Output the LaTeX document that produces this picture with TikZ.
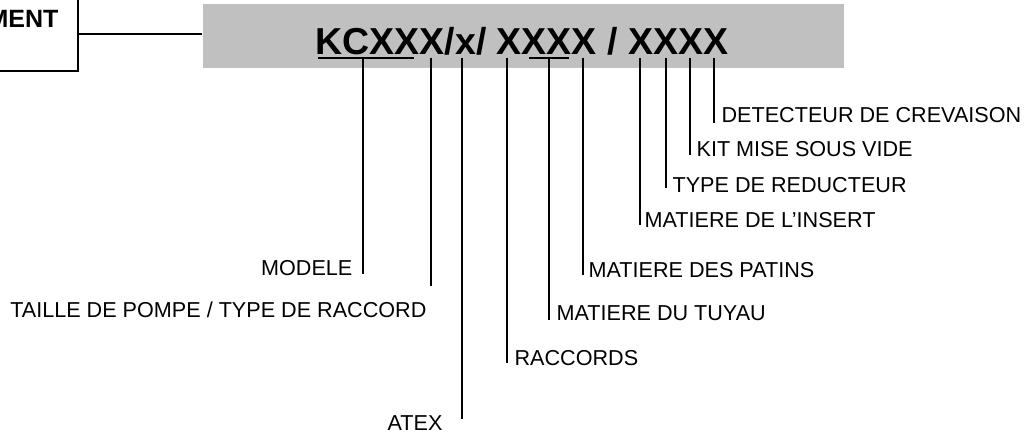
\documentclass[tikz,border=0pt]{standalone}
\usepackage{fontspec}
\setmainfont{Liberation Sans}
\usetikzlibrary{positioning}
\definecolor{bandgray}{RGB}{192,192,192}
\tikzset{
	every path/.style = {line width=1.2pt},
	fieldtext/.style = {draw=none, inner sep=0pt, font=\fontsize{21.6}{25}\selectfont}
}

\begin{document}
\begin{tikzpicture}[x=1pt,y=-1pt,
	codeband/.style={draw=none,fill=bandgray,minimum width=641pt,minimum height=64pt,inner sep=0pt}]
	\useasboundingbox (0,0) rectangle (1030,433);
	\node (box) [draw, line width=1.5pt, minimum width=138pt, minimum height=74pt, inner sep=0pt] at (9,34) {};
	\node (ment) [anchor=base east, inner sep=0pt, font=\bfseries\fontsize{25}{28}\selectfont] at (59,28) {MENT};
	\node (band) [codeband] at (523.5,36) {};
	\draw (box.east) -- (box.east -| band.west);
	\node (code) [anchor=base west, inner sep=0pt, font=\bfseries\fontsize{37.5}{40}\selectfont] at (315,55) {KCXXX/x/ XXXX / XXXX};
	% underlines
	\draw (318,58) -- (414,58);
	\draw (529,58) -- (569,58);
	% tick tops
	\coordinate (t-modele) at (363,58);
	\coordinate (t-taille) at (431,58);
	\coordinate (t-atex) at (462,58);
	\coordinate (t-racc) at (507,58);
	\coordinate (t-tuyau) at (549,58);
	\coordinate (t-patins) at (583,58);
	\coordinate (t-insert) at (640,58);
	\coordinate (t-reduc) at (666,58);
	\coordinate (t-kit) at (690,58);
	\coordinate (t-detect) at (714,58);
	% tick ends
	\coordinate (e-modele) at (363,274);
	\coordinate (e-taille) at (431,286);
	\coordinate (e-atex) at (462,419);
	\coordinate (e-racc) at (507,363);
	\coordinate (e-tuyau) at (549,320);
	\coordinate (e-patins) at (583,275);
	\coordinate (e-insert) at (640,225);
	\coordinate (e-reduc) at (666,188);
	\coordinate (e-kit) at (690,155);
	\coordinate (e-detect) at (714,123);
	% labels
	\node (modele) [fieldtext, anchor=base east] at (353,275) {MODELE};
	\node (taille) [fieldtext, anchor=base east] at (427,317) {TAILLE DE POMPE / TYPE DE RACCORD};
	\node (atex) [fieldtext, anchor=base east] at (443,430) {ATEX};
	\node (racc) [fieldtext, anchor=base west] at (514,365) {RACCORDS};
	\node (tuyau) [fieldtext, anchor=base west] at (556,320) {MATIERE DU TUYAU};
	\node (patins) [fieldtext, anchor=base west] at (588,277) {MATIERE DES PATINS};
	\node (insert) [fieldtext, anchor=base west] at (644,227) {MATIERE DE L’INSERT};
	\node (reduc) [fieldtext, anchor=base west] at (672,192) {TYPE DE REDUCTEUR};
	\node (kit) [fieldtext, anchor=base west] at (696,157) {KIT MISE SOUS VIDE};
	\node (detect) [fieldtext, anchor=base west] at (721,123) {DETECTEUR DE CREVAISON};
	% ticks
	\draw (t-modele) -- (e-modele);
	\draw (t-taille) -- (e-taille);
	\draw (t-atex) -- (e-atex);
	\draw (t-racc) -- (e-racc);
	\draw (t-tuyau) -- (e-tuyau);
	\draw (t-patins) -- (e-patins);
	\draw (t-insert) -- (e-insert);
	\draw (t-reduc) -- (e-reduc);
	\draw (t-kit) -- (e-kit);
	\draw (t-detect) -- (e-detect);
\end{tikzpicture}
\end{document}
